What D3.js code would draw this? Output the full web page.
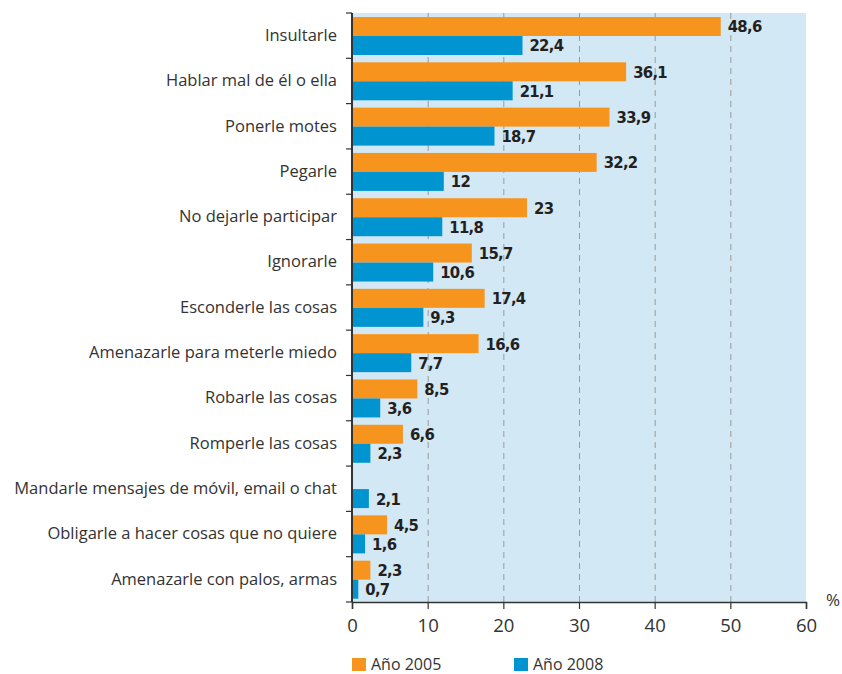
<!DOCTYPE html>
<html>
<head>
<meta charset="utf-8">
<script src="https://cdn.jsdelivr.net/npm/d3@7"></script>
<style>
  body { margin: 0; background: #fff; }
  svg { display: block; }
  svg text { font-family: "Open Sans", "DejaVu Sans", sans-serif; }
  .cat text { fill: #333; font-size: 16.5px; }
  .val { font-family: "DejaVu Sans Condensed", "DejaVu Sans", sans-serif !important; font-weight: bold; font-size: 16.5px; letter-spacing: -0.7px; fill: #231f20; }
  .grid line { stroke: #9a9a9a; stroke-dasharray: 6,5; }
  .grid .domain { display: none; }
  .x.axis text { font-size: 18.5px; fill: #333; }
  .leg { font-size: 16px; fill: #333; }
</style>
</head>
<body>
<div id="chart"></div>
<script>
// categories and series values
var categories = [
  "Insultarle",
  "Hablar mal de él o ella",
  "Ponerle motes",
  "Pegarle",
  "No dejarle participar",
  "Ignorarle",
  "Esconderle las cosas",
  "Amenazarle para meterle miedo",
  "Robarle las cosas",
  "Romperle las cosas",
  "Mandarle mensajes de móvil, email o chat",
  "Obligarle a hacer cosas que no quiere",
  "Amenazarle con palos, armas"
];
var year2005 = [48.6, 36.1, 33.9, 32.2, 23, 15.7, 17.4, 16.6, 8.5, 6.6, null, 4.5, 2.3];
var year2008 = [22.4, 21.1, 18.7, 12, 11.8, 10.6, 9.3, 7.7, 3.6, 2.3, 2.1, 1.6, 0.7];
var xTicks = [0, 10, 20, 30, 40, 50, 60];
var seriesNames = ["Año 2005", "Año 2008"];
var colors = ["#f7941d", "#0095d0"];

var W = 842, H = 674;
var margin = {top: 13, right: 36, bottom: 72, left: 352};
var graph_w = W - margin.left - margin.right;
var graph_h = H - margin.top - margin.bottom;

var svg = d3.select("#chart").append("svg")
  .attr("width", W).attr("height", H);
var g = svg.append("g")
  .attr("transform", "translate(" + margin.left + "," + margin.top + ")");

var x = d3.scaleLinear().domain([0, 60]).range([0, graph_w]);
var y = d3.scaleBand().domain(categories).range([0, graph_h]);

// background panel
g.append("rect")
  .attr("width", graph_w).attr("height", graph_h)
  .attr("fill", "#d3e8f5");

// dashed gridlines
g.append("g")
  .attr("class", "grid")
  .attr("transform", "translate(0," + graph_h + ")")
  .call(d3.axisBottom(x).tickValues(xTicks.slice(1, -1)).tickSize(-graph_h).tickFormat(""));

// bars
var barH = 19, barOff = 4;
var rows = categories.map(function(c, i) { return {cat: c, v: [year2005[i], year2008[i]]}; });
var fmt = function(v) { return String(v).replace(".", ","); };

rows.forEach(function(r) {
  r.v.forEach(function(v, k) {
    if (v === null) return;
    var yy = y(r.cat) + barOff + k * barH;
    g.append("rect")
      .attr("x", x(0) + 1).attr("y", yy)
      .attr("width", x(v) - x(0)).attr("height", barH)
      .attr("fill", colors[k]);
    g.append("text")
      .attr("class", "val")
      .attr("x", x(v) + 8).attr("y", yy + barH / 2)
      .attr("dy", "0.36em")
      .text(fmt(v));
  });
});

// category axis
var yAxis = g.append("g")
  .attr("class", "cat")
  .call(d3.axisLeft(y).tickSize(0).tickPadding(15));
yAxis.select(".domain").remove();
// category separator ticks
g.append("g").selectAll("line")
  .data(d3.range(categories.length + 1))
  .enter().append("line")
  .attr("x1", -6).attr("x2", 0)
  .attr("y1", function(i) { return i * y.step(); })
  .attr("y2", function(i) { return i * y.step(); })
  .attr("stroke", "#333").attr("stroke-width", 1.2);
g.append("line")
  .attr("x1", 0).attr("x2", 0).attr("y1", 0).attr("y2", graph_h)
  .attr("stroke", "#333").attr("stroke-width", 2);

// value axis
var xAxis = g.append("g")
  .attr("class", "x axis")
  .attr("transform", "translate(0," + graph_h + ")")
  .call(d3.axisBottom(x).tickValues(xTicks).tickSize(7).tickPadding(10));
xAxis.select(".domain").attr("stroke", "#333").attr("stroke-width", 1.5);
xAxis.selectAll(".tick line").attr("stroke", "#333").attr("stroke-width", 1.2);

svg.append("text")
  .attr("class", "leg")
  .attr("x", 826).attr("y", 606)
  .style("font-size", "17px")
  .text("%");

// legend
var legX = [352, 514];
seriesNames.forEach(function(n, k) {
  svg.append("rect")
    .attr("x", legX[k]).attr("y", 658)
    .attr("width", 14).attr("height", 13)
    .attr("fill", colors[k]);
  svg.append("text")
    .attr("class", "leg")
    .attr("x", legX[k] + 19).attr("y", 670)
    .text(n);
});
</script>
</body>
</html>
